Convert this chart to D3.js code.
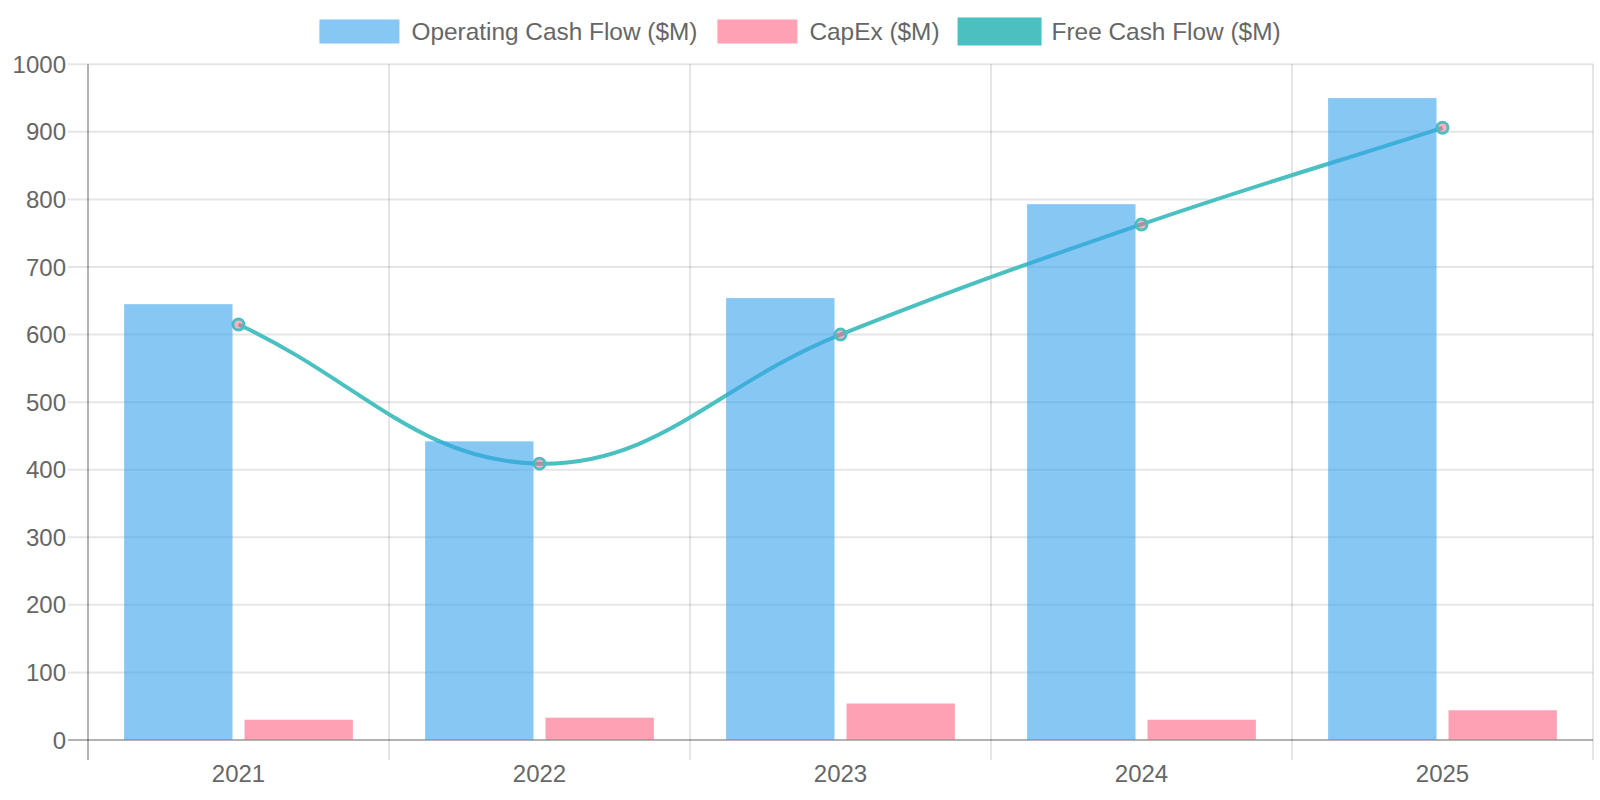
<!DOCTYPE html>
<html>
<head>
<meta charset="utf-8">
<script src="https://cdn.jsdelivr.net/npm/d3@7"></script>
<style>
  html, body { margin: 0; padding: 0; background: #fff; }
  svg { display: block; font-family: "Liberation Sans", Arial, Helvetica, sans-serif; }
</style>
</head>
<body>
<svg id="chart" width="1600" height="800"></svg>
<script>
const years = ["2021", "2022", "2023", "2024", "2025"];
const operatingCashFlow = [645, 442, 654, 793, 950];
const capEx = [30, 33, 54, 30, 44];
const freeCashFlow = [615, 409, 600, 763, 906];
const yTicks = [0, 100, 200, 300, 400, 500, 600, 700, 800, 900, 1000];
const seriesNames = ["Operating Cash Flow ($M)", "CapEx ($M)", "Free Cash Flow ($M)"];

const W = 1600, H = 800;
const area = { left: 88, right: 1593, top: 64.3, bottom: 740 };
const svg = d3.select("#chart");

const x = d3.scaleBand().domain(years).range([area.left, area.right]).paddingInner(0).paddingOuter(0);
const y = d3.scaleLinear().domain([0, 1000]).range([area.bottom, area.top]);

const catW = x.bandwidth() * 0.8;

const gridColor = "rgba(0,0,0,0.1)";
const axisColor = "rgba(0,0,0,0.3)";
const textColor = "#666";

// Horizontal grid lines + y ticks
const gY = svg.append("g");
yTicks.forEach(t => {
  gY.append("line")
    .attr("x1", area.left - 20).attr("x2", area.right)
    .attr("y1", y(t)).attr("y2", y(t))
    .attr("stroke", t === 0 ? axisColor : gridColor)
    .attr("stroke-width", 2);
  gY.append("text")
    .attr("x", 66).attr("y", y(t))
    .attr("text-anchor", "end").attr("dominant-baseline", "central")
    .attr("fill", textColor).attr("font-size", 24)
    .text(t);
});

// Vertical grid lines at category edges
const edges = years.map(d => x(d)).concat([area.right]);
edges.forEach((ex, i) => {
  svg.append("line")
    .attr("x1", ex).attr("x2", ex)
    .attr("y1", area.top).attr("y2", area.bottom + 20)
    .attr("stroke", i === 0 ? axisColor : gridColor)
    .attr("stroke-width", 2);
});

// x labels
years.forEach(d => {
  svg.append("text")
    .attr("x", x(d) + x.bandwidth() / 2).attr("y", 773)
    .attr("text-anchor", "middle").attr("dominant-baseline", "central")
    .attr("fill", textColor).attr("font-size", 24)
    .text(d);
});

// Free cash flow line (Chart.js-style spline, tension 0.4)
const pts = freeCashFlow.map((v, i) => ({ x: x(years[i]) + x.bandwidth() / 2, y: y(v) }));
const tension = 0.4;
pts.forEach((p, i) => {
  const prev = pts[i - 1] || p, next = pts[i + 1] || p;
  const d01 = Math.hypot(p.x - prev.x, p.y - prev.y);
  const d12 = Math.hypot(next.x - p.x, next.y - p.y);
  let s01 = d01 / (d01 + d12), s12 = d12 / (d01 + d12);
  if (isNaN(s01)) s01 = 0; if (isNaN(s12)) s12 = 0;
  const fa = tension * s01, fb = tension * s12;
  p.c1x = p.x - fa * (next.x - prev.x); p.c1y = p.y - fa * (next.y - prev.y);
  p.c2x = p.x + fb * (next.x - prev.x); p.c2y = p.y + fb * (next.y - prev.y);
  const clampY = v => Math.max(area.top, Math.min(area.bottom, v));
  p.c1y = clampY(p.c1y); p.c2y = clampY(p.c2y);
});
const path = d3.path();
pts.forEach((p, i) => {
  if (i === 0) path.moveTo(p.x, p.y);
  else { const q = pts[i - 1]; path.bezierCurveTo(q.c2x, q.c2y, p.c1x, p.c1y, p.x, p.y); }
});
svg.append("path").attr("d", path.toString())
  .attr("fill", "none").attr("stroke", "#4BC0C0").attr("stroke-width", 4);
svg.selectAll("circle.pt").data(pts).enter().append("circle")
  .attr("cx", d => d.x).attr("cy", d => d.y).attr("r", 5.5)
  .attr("fill", "rgba(255,99,132,0.5)").attr("stroke", "#4BC0C0").attr("stroke-width", 3);

// Bars
const barW = catW / 2 * 0.9;
const catStart = d => x(d) + (x.bandwidth() - catW) / 2;
const gBars = svg.append("g");
years.forEach((d, i) => {
  const slot = catW / 2;
  gBars.append("rect")
    .attr("x", catStart(d) + slot * 0 + (slot - barW) / 2)
    .attr("y", y(operatingCashFlow[i]))
    .attr("width", barW).attr("height", y(0) - y(operatingCashFlow[i]))
    .attr("fill", "rgba(54,162,235,0.6)");
  gBars.append("rect")
    .attr("x", catStart(d) + slot * 1 + (slot - barW) / 2)
    .attr("y", y(capEx[i]))
    .attr("width", barW).attr("height", y(0) - y(capEx[i]))
    .attr("fill", "rgba(255,99,132,0.6)");
});

// Legend
const legendStyles = [
  { fill: "rgba(54,162,235,0.6)", stroke: "none", sw: 0 },
  { fill: "rgba(255,99,132,0.6)", stroke: "none", sw: 0 },
  { fill: "#4BC0C0", stroke: "#4BC0C0", sw: 4 }
];
const gL = svg.append("g");
const items = seriesNames.map((name, i) => {
  const g = gL.append("g");
  const t = g.append("text").attr("x", 92).attr("y", 31.6)
    .attr("dominant-baseline", "central").attr("fill", textColor).attr("font-size", 24.4).text(name);
  g.append("rect").attr("x", 0).attr("y", 19.5).attr("width", 80).attr("height", 24)
    .attr("fill", legendStyles[i].fill).attr("stroke", legendStyles[i].stroke).attr("stroke-width", legendStyles[i].sw);
  return { g, w: 92 + t.node().getComputedTextLength() };
});
const total = d3.sum(items, d => d.w) + 20 * (items.length - 1);
let cx = W / 2 - total / 2;
items.forEach(it => { it.g.attr("transform", `translate(${cx},0)`); cx += it.w + 20; });
</script>
</body>
</html>
